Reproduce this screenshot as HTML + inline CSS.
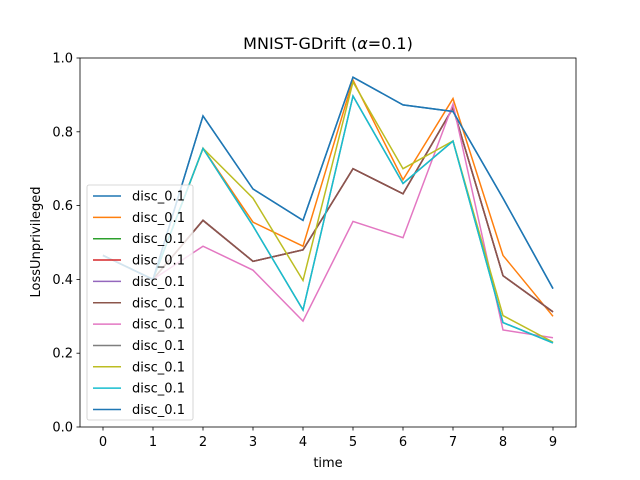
<!DOCTYPE html>
<html><head><meta charset="utf-8"><style>
body{margin:0;background:#fff;}
svg{display:block;font-family:"DejaVu Sans","Liberation Sans",sans-serif;}
</style></head><body>
<svg id="chart" width="640" height="480"></svg>
<script>
const categories=[0,1,2,3,4,5,6,7,8,9];
const yTicks=[0.0,0.2,0.4,0.6,0.8,1.0];
const seriesNames=["disc_0.1","disc_0.1","disc_0.1","disc_0.1","disc_0.1","disc_0.1","disc_0.1","disc_0.1","disc_0.1","disc_0.1","disc_0.1"];
const colors=["#1f77b4","#ff7f0e","#2ca02c","#d62728","#9467bd","#8c564b","#e377c2","#7f7f7f","#bcbd22","#17becf","#1f77b4"];
const s0=[0.465,0.40,0.843,0.645,0.56,0.948,0.873,0.855,0.62,0.375];
const s1=[0.465,0.40,0.755,0.555,0.49,0.94,0.67,0.89,0.465,0.30];
const s2=[0.465,0.40,0.56,0.449,0.48,0.70,0.632,0.865,0.41,0.312];
const s3=[0.465,0.40,0.56,0.449,0.48,0.70,0.632,0.865,0.41,0.312];
const s4=[0.465,0.40,0.56,0.449,0.48,0.70,0.632,0.865,0.41,0.312];
const s5=[0.465,0.40,0.56,0.449,0.48,0.70,0.632,0.865,0.41,0.312];
const s6=[0.465,0.40,0.49,0.425,0.287,0.557,0.513,0.875,0.263,0.242];
const s7=[0.465,0.40,0.755,0.545,0.317,0.897,0.66,0.775,0.283,0.228];
const s8=[0.465,0.40,0.755,0.62,0.397,0.935,0.70,0.775,0.302,0.23];
const s9=[0.465,0.40,0.755,0.545,0.317,0.897,0.66,0.775,0.283,0.228];
const s10=[0.465,0.40,0.843,0.645,0.56,0.948,0.873,0.855,0.62,0.375];
const series=[s0,s1,s2,s3,s4,s5,s6,s7,s8,s9,s10];

const NS="http://www.w3.org/2000/svg";
const svg=document.getElementById('chart');
const L=80,R=576,T=58,B=427;
const xs=v=>103+(v-0)*(553-103)/9;
const ys=v=>B-v*(B-T);
function mk(tag,attrs,parent){const e=document.createElementNS(NS,tag);for(const k in attrs)e.setAttribute(k,attrs[k]);(parent||svg).appendChild(e);return e;}

series.forEach((s,i)=>{
  const p=mk('polyline',{points:s.map((v,j)=>xs(categories[j])+','+ys(v)).join(' '),fill:'none',stroke:colors[i],'stroke-width':1.5});
  
  
});
const fr=mk('rect',{x:L,y:T,width:R-L,height:B-T,fill:'none',stroke:'#000','stroke-width':0.8});


categories.forEach(c=>{
  const x=xs(c);
  mk('line',{x1:x,x2:x,y1:B,y2:B+3.5,stroke:'#000','stroke-width':0.8});
  const t=mk('text',{x:x,y:B+19,'font-size':13,'text-anchor':'middle'});t.textContent=c;
  
  
});
yTicks.forEach(v=>{
  const y=ys(v);
  mk('line',{x1:L-3.5,x2:L,y1:y,y2:y,stroke:'#000','stroke-width':0.8});
  const t=mk('text',{x:L-7,y:y+4.5,'font-size':13,'text-anchor':'end'});t.textContent=v.toFixed(1);
  
  
});
let t=mk('text',{x:328,y:467,'font-size':13,'text-anchor':'middle'});t.textContent='time';


t=mk('text',{x:0,y:0,'font-size':13,'text-anchor':'middle',transform:'translate(40,242) rotate(-90)'});t.textContent='LossUnprivileged';


t=mk('text',{x:328,y:49,'font-size':16,'text-anchor':'middle'});t.innerHTML='MNIST-GDrift (<tspan font-style="italic">α</tspan>=0.1)';


const lg=mk('g',{});


mk('rect',{x:87,y:185,width:106,height:235,rx:2,fill:'#fff','fill-opacity':0.8,stroke:'#ccc','stroke-width':0.8},lg);
seriesNames.forEach((n,i)=>{
  const y=196+i*21.35;
  const g=mk('g',{},lg);
  
  
  mk('line',{x1:93,x2:121,y1:y,y2:y,stroke:colors[i],'stroke-width':1.5},g);
  const tt=mk('text',{x:132,y:y+4.5,'font-size':13},g);tt.textContent=n;
});
</script>
</body></html>
